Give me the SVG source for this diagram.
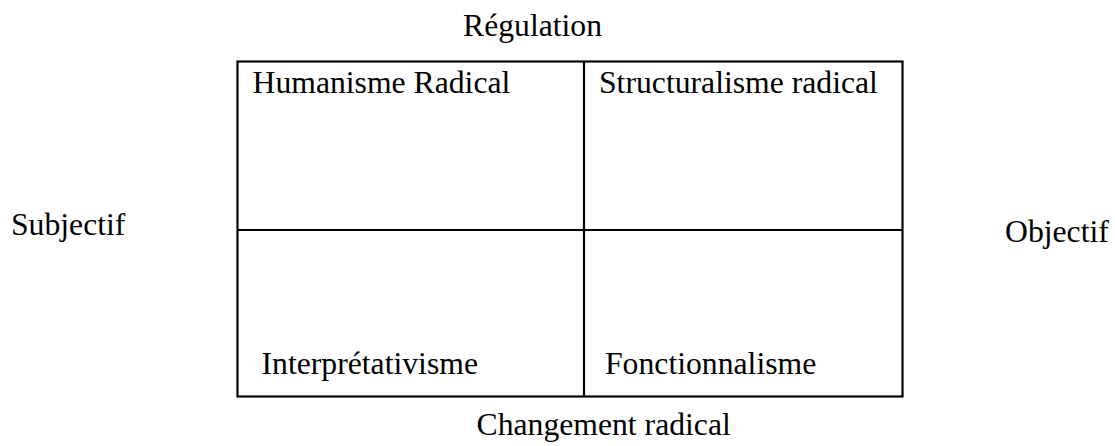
<svg xmlns="http://www.w3.org/2000/svg" width="1115" height="446" viewBox="0 0 1115 446">
<style>
text{font-family:"Liberation Serif","Times New Roman",serif;font-size:31.7px;fill:#000}
.ln{stroke:#000;stroke-width:2.2;fill:none}
</style>
<rect width="1115" height="446" fill="#fff"/>
<g id="connectors">
<rect class="ln" x="237.5" y="61.5" width="665" height="335"/>
<line class="ln" x1="584" y1="61.5" x2="584" y2="396.5"/>
<line class="ln" x1="237.5" y1="230" x2="902.5" y2="230"/>
</g>
<g id="regulation"><text x="463" y="36">Régulation</text></g>
<g id="humanisme"><text x="252.5" y="93">Humanisme Radical</text></g>
<g id="structuralisme"><text x="599" y="93">Structuralisme radical</text></g>
<g id="interpretativisme"><text x="261.5" y="374">Interprétativisme</text></g>
<g id="fonctionnalisme"><text x="605" y="374">Fonctionnalisme</text></g>
<g id="subjectif"><text x="11" y="235">Subjectif</text></g>
<g id="objectif"><text x="1005" y="242">Objectif</text></g>
<g id="changement"><text x="476.5" y="435">Changement radical</text></g>
</svg>
